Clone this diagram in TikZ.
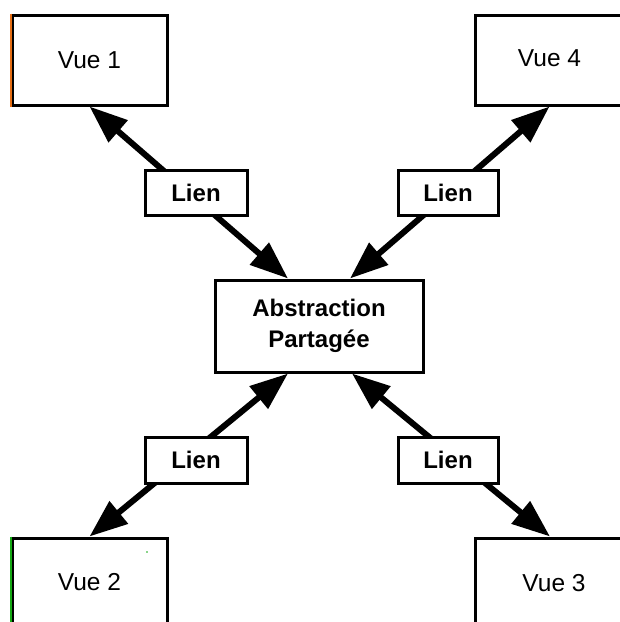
\documentclass[tikz,border=0pt]{standalone}
\usepackage{fontspec}
\setmainfont{Liberation Sans}
\usetikzlibrary{arrows.meta,backgrounds}
\begin{document}
\begin{tikzpicture}[x=1pt,y=-1pt,
  box/.style={draw, line width=3pt, fill=white, inner sep=0pt, align=center,
    font=\bfseries\fontsize{24}{31.5}\selectfont},
  viewbox/.style={box, minimum height=90pt, font=\fontsize{24.5}{30}\selectfont},
  linkbox/.style={box, minimum width=102pt, minimum height=45pt},
  link/.style={line width=6pt, {Triangle[length=38pt,width=28pt]}-{Triangle[length=38pt,width=28pt]}}]
\useasboundingbox (0,0) rectangle (620,622);
\clip (0,0) rectangle (620,622);

% views in the four corners
\node[viewbox, minimum width=155pt] (v1) at (89.5,60) {Vue 1};
\node[viewbox, minimum width=149pt] (v4) at (549.5,60) {\raisebox{3pt}{Vue 4}};
\node[viewbox, minimum width=155pt] (v2) at (89.5,583) {\raisebox{2pt}{Vue 2}};
\node[viewbox, minimum width=158pt] (v3) at (554,583) {Vue 3};

% shared abstraction in the middle
\node[box, minimum width=208pt, minimum height=92pt] (abs) at (319,326) {Abstraction\\Partagée};

% link labels
\node[linkbox] (l1) at (196,192.5) {Lien};
\node[linkbox, minimum width=100pt] (l2) at (448,192.5) {Lien};
\node[linkbox, minimum height=46pt] (l3) at (196,460) {Lien};
\node[linkbox, minimum width=100pt, minimum height=46pt] (l4) at (448,460) {Lien};

% coloured left edges
\draw[line width=2pt, color={rgb,255:red,230;green,110;blue,20}] (v1.north west) -- (v1.south west);
\draw[line width=2pt, color={rgb,255:red,20;green,170;blue,20}] (v2.north west) -- (v2.south west);
\fill[color={rgb,255:red,20;green,170;blue,20}] (147,552) circle (0.8);

% two-way connectors, behind the boxes
\begin{pgfonlayer}{background}
\fill[white] (0,0) rectangle (620,622);
\draw[link] (v1.south) -- ([xshift=-31pt]abs.north);
\draw[link] (v4.south) -- ([xshift=31pt]abs.north);
\draw[link] (v2.north) -- ([xshift=-31pt]abs.south);
\draw[link] ([xshift=-4pt]v3.north) -- ([xshift=33pt]abs.south);
\end{pgfonlayer}
\end{tikzpicture}
\end{document}
